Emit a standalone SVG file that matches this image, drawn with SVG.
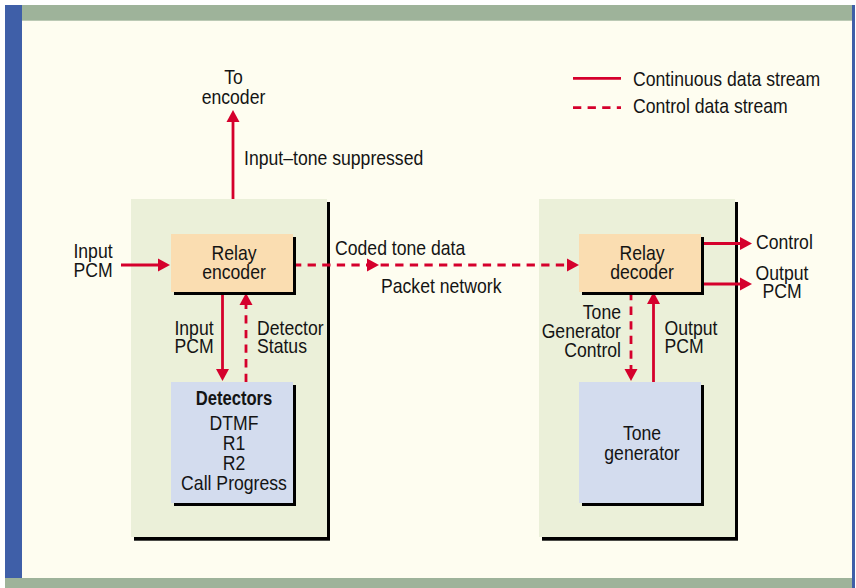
<svg xmlns="http://www.w3.org/2000/svg" width="856" height="588" viewBox="0 0 856 588">
<defs>
<style>
.t{font-family:"Liberation Sans",Arial,sans-serif;font-size:20.5px;fill:#141414}
.b{font-weight:bold}
.m{text-anchor:middle}
.e{text-anchor:end}
.sh{fill:#000}
.cont{fill:#EBF0D9}
.peach{fill:#FADDB1}
.blue{fill:#D3DCEE}
.ln{stroke:#D5002C;stroke-width:2.8;fill:none}
.dash{stroke-dasharray:8.3 6.3}
</style>
<marker id="ah" markerUnits="userSpaceOnUse" markerWidth="12" markerHeight="13" refX="8" refY="6.5" orient="auto" overflow="visible">
<path d="M0,0 L12,6.5 L0,13 z" fill="#D5002C"/>
</marker>
</defs>
<g id="frame">
<rect x="0" y="0" width="856" height="588" fill="#FFFFFF"/>
<rect x="5" y="5" width="848" height="583" fill="#FEFDF0"/>
<rect x="5" y="5" width="17" height="573" fill="#3F5FA8"/>
<rect x="22" y="5" width="830" height="15.7" fill="#9EB39A"/>
<rect x="852" y="5" width="3" height="583" fill="#3F5FA8"/>
<rect x="5" y="578" width="847" height="10" fill="#9EB39A"/>
</g>
<g id="legend">
<line class="ln" x1="573" y1="78.3" x2="621" y2="78.3"/>
<line class="ln dash" x1="573" y1="107.7" x2="621" y2="107.7"/>
<text class="t" transform="translate(633,85.5) scale(.86 1)">Continuous data stream</text>
<text class="t" transform="translate(633,113.3) scale(.86 1)">Control data stream</text>
</g>
<g id="encoder-side">
<rect class="sh" x="134" y="202" width="196" height="338.7"/>
<rect class="cont" x="131" y="199" width="196" height="338"/>
</g>
<g id="decoder-side">
<rect class="sh" x="542" y="202" width="196" height="338.7"/>
<rect class="cont" x="539" y="199" width="196" height="338"/>
</g>
<g id="connectors">
<line class="ln" x1="121" y1="265" x2="166" y2="265" marker-end="url(#ah)"/>
<line class="ln" x1="233" y1="199" x2="233" y2="114" marker-end="url(#ah)"/>
<polyline class="ln dash" points="293,265 375,265 575,265" marker-mid="url(#ah)" marker-end="url(#ah)"/>
<line class="ln" x1="222.5" y1="292" x2="222.5" y2="377" marker-end="url(#ah)"/>
<line class="ln dash" x1="246" y1="382" x2="246" y2="297" marker-end="url(#ah)"/>
<line class="ln dash" x1="631" y1="292" x2="631" y2="377" marker-end="url(#ah)"/>
<line class="ln" x1="653.5" y1="382" x2="653.5" y2="296" marker-end="url(#ah)"/>
<line class="ln" x1="701" y1="243.5" x2="748" y2="243.5" marker-end="url(#ah)"/>
<line class="ln" x1="701" y1="284" x2="748" y2="284" marker-end="url(#ah)"/>
</g>
<g id="relay-encoder">
<rect class="sh" x="174" y="237" width="122" height="58"/>
<rect class="peach" x="171" y="234" width="122" height="58"/>
<text class="t m" transform="translate(234,260) scale(.86 1)">Relay</text>
<text class="t m" transform="translate(234,279.3) scale(.86 1)">encoder</text>
</g>
<g id="detectors">
<rect class="sh" x="174" y="385" width="122" height="121"/>
<rect class="blue" x="171" y="382" width="122" height="121"/>
<text class="t b m" transform="translate(234,405.3) scale(.81 1)">Detectors</text>
<text class="t m" transform="translate(234,430) scale(.86 1)">DTMF</text>
<text class="t m" transform="translate(234,450) scale(.86 1)">R1</text>
<text class="t m" transform="translate(234,470) scale(.86 1)">R2</text>
<text class="t m" transform="translate(234,489.5) scale(.86 1)">Call Progress</text>
</g>
<g id="relay-decoder">
<rect class="sh" x="582" y="237" width="122" height="58"/>
<rect class="peach" x="579" y="234" width="122" height="58"/>
<text class="t m" transform="translate(642,260) scale(.86 1)">Relay</text>
<text class="t m" transform="translate(642,279.3) scale(.86 1)">decoder</text>
</g>
<g id="tone-generator">
<rect class="sh" x="582" y="385" width="122" height="121"/>
<rect class="blue" x="579" y="382" width="122" height="121"/>
<text class="t m" transform="translate(642,440) scale(.86 1)">Tone</text>
<text class="t m" transform="translate(642,460) scale(.86 1)">generator</text>
</g>
<g id="labels">
<text class="t m" transform="translate(233.5,84) scale(.86 1)">To</text>
<text class="t m" transform="translate(233.5,103.5) scale(.86 1)">encoder</text>
<text class="t" transform="translate(244,165) scale(.86 1)">Input–tone suppressed</text>
<text class="t m" transform="translate(93,258) scale(.86 1)">Input</text>
<text class="t m" transform="translate(93,276.7) scale(.86 1)">PCM</text>
<text class="t" transform="translate(335,255) scale(.86 1)">Coded tone data</text>
<text class="t" transform="translate(381,293.3) scale(.86 1)">Packet network</text>
<text class="t" transform="translate(756,249.3) scale(.86 1)">Control</text>
<text class="t m" transform="translate(782,280) scale(.86 1)">Output</text>
<text class="t m" transform="translate(782,298.3) scale(.86 1)">PCM</text>
<text class="t m" transform="translate(194,335) scale(.86 1)">Input</text>
<text class="t m" transform="translate(194,353.3) scale(.86 1)">PCM</text>
<text class="t" transform="translate(257,335) scale(.86 1)">Detector</text>
<text class="t" transform="translate(257,353.3) scale(.86 1)">Status</text>
<text class="t e" transform="translate(621,319.3) scale(.86 1)">Tone</text>
<text class="t e" transform="translate(621,338.3) scale(.86 1)">Generator</text>
<text class="t e" transform="translate(621,356.7) scale(.86 1)">Control</text>
<text class="t" transform="translate(664.5,335) scale(.86 1)">Output</text>
<text class="t" transform="translate(664.5,353.3) scale(.86 1)">PCM</text>
</g>
</svg>
